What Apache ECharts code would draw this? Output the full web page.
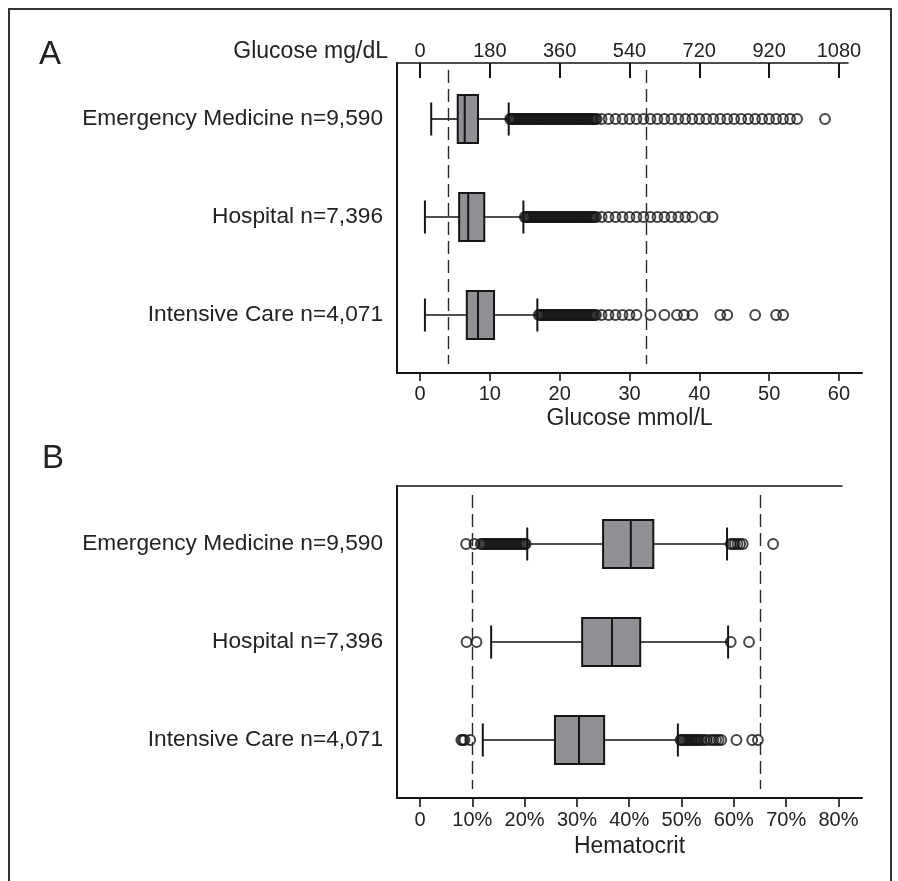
<!DOCTYPE html>
<html><head><meta charset="utf-8">
<script src="https://cdn.jsdelivr.net/npm/echarts@6/dist/echarts.min.js"></script>
<style>html,body{margin:0;padding:0;background:#fff}#c{width:898px;height:881px}</style>
</head><body><div id="c"></div>
<script>
// ---------- data ----------
const categories = ['Emergency Medicine n=9,590', 'Hospital n=7,396', 'Intensive Care n=4,071'];

// Panel A: glucose (mmol/L) [lower whisker, Q1, median, Q3, upper whisker]
const glucoseBoxes = [
  [1.6, 5.4, 6.4, 8.3, 12.7],
  [0.7, 5.6, 6.9, 9.2, 14.8],
  [0.7, 6.7, 8.3, 10.6, 16.8]
];
const glucoseOutliersEM = [12.9,13.1,13.3,13.5,13.7,13.9,14.1,14.3,14.5,14.7,14.9,15.1,15.3,15.5,15.7,15.9,16.1,16.3,16.5,16.7,16.9,17.1,17.3,17.5,17.7,17.9,18.1,18.3,18.5,18.7,18.9,19.1,19.3,19.5,19.7,19.9,20.1,20.3,20.5,20.7,20.9,21.1,21.3,21.5,21.7,21.9,22.1,22.3,22.5,22.7,22.9,23.1,23.3,23.5,23.7,23.9,24.1,24.3,24.5,24.7,24.9,25.1,25.3,
  26,27,28,29,30,31,32,33,34,35,36,37,38,39,40,41,42,43,44,45,46,47,48,49,50,51,52,53,54,58];
const glucoseOutliersHosp = [15.0,15.2,15.4,15.6,15.8,16.0,16.2,16.4,16.6,16.8,17.0,17.2,17.4,17.6,17.8,18.0,18.2,18.4,18.6,18.8,19.0,19.2,19.4,19.6,19.8,20.0,20.2,20.4,20.6,20.8,21.0,21.2,21.4,21.6,21.8,22.0,22.2,22.4,22.6,22.8,23.0,23.2,23.4,23.6,23.8,24.0,24.2,24.4,24.6,24.8,25.0,25.2,
  26,27,28,29,30,31,32,33,34,35,36,37,38,39,40.8,41.9];
const glucoseOutliersICU = [17.0,17.2,17.4,17.6,17.8,18.0,18.2,18.4,18.6,18.8,19.0,19.2,19.4,19.6,19.8,20.0,20.2,20.4,20.6,20.8,21.0,21.2,21.4,21.6,21.8,22.0,22.2,22.4,22.6,22.8,23.0,23.2,23.4,23.6,23.8,24.0,24.2,24.4,24.6,24.8,25.0,25.2,
  26,27,28,29,30,31,33,35,36.8,37.8,39,43,44,48,51,52];
const glucoseTicks = [0, 10, 20, 30, 40, 50, 60];
const glucoseMgTickLabels = ['0', '180', '360', '540', '720', '920', '1080'];
const glucoseLimits = [4.1, 32.4];

// Panel B: hematocrit (%)
const hctBoxes = [
  [20.5, 35.0, 40.3, 44.6, 58.7],
  [13.6, 31.0, 36.7, 42.1, 58.9],
  [12.0, 25.8, 30.4, 35.2, 49.3]
];
const hctOutliersEM = [8.8,10.4,11.6,11.9,12.2,12.5,12.8,13.1,13.4,13.7,14.0,14.3,14.6,14.9,15.2,15.5,15.8,16.1,16.4,16.7,17.0,17.3,17.6,17.9,18.2,18.5,18.8,19.1,19.4,19.7,20.0,20.2,
  59.4,59.8,60.2,60.7,61.2,61.7,67.5];
const hctOutliersHosp = [8.9, 10.8, 59.4, 62.9];
const hctOutliersICU = [7.9,8.2,8.5,9.6,
  49.8,50.1,50.4,50.7,51.0,51.3,51.6,51.9,52.2,52.5,52.8,53.1,53.4,53.8,54.3,54.8,55.6,56.1,56.6,57.1,57.6,60.5,63.5,64.6];
const hctTicks = [0, 10, 20, 30, 40, 50, 60, 70, 80];
const hctLimits = [10, 65];

// ---------- chart ----------
const INK = '#151515';
const FONT = '"Liberation Sans", Arial, Helvetica, sans-serif';
const chart = echarts.init(document.getElementById('c'), null, {renderer: 'canvas'});

function renderBox(params, api) {
  const c = api.value(0);
  const pMin = api.coord([api.value(1), c]);
  const pQ1 = api.coord([api.value(2), c]);
  const pMed = api.coord([api.value(3), c]);
  const pQ3 = api.coord([api.value(4), c]);
  const pMax = api.coord([api.value(5), c]);
  const y = pMed[1];
  const bh = 24, ch = 16.5;
  const thin = {stroke: INK, lineWidth: 1.6};
  const thick = {stroke: INK, lineWidth: 2};
  return {type: 'group', children: [
    {type: 'line', shape: {x1: pMin[0], y1: y, x2: pQ1[0], y2: y}, style: thin},
    {type: 'line', shape: {x1: pQ3[0], y1: y, x2: pMax[0], y2: y}, style: thin},
    {type: 'line', shape: {x1: pMin[0], y1: y - ch, x2: pMin[0], y2: y + ch}, style: thick},
    {type: 'line', shape: {x1: pMax[0], y1: y - ch, x2: pMax[0], y2: y + ch}, style: thick},
    {type: 'rect', shape: {x: pQ1[0], y: y - bh, width: pQ3[0] - pQ1[0], height: 2 * bh},
      style: {fill: '#8f9094', stroke: INK, lineWidth: 2}},
    {type: 'line', shape: {x1: pMed[0], y1: y - bh, x2: pMed[0], y2: y + bh}, style: thick}
  ]};
}

function outlierSeries(values, catIdx, xi, yi) {
  return {
    type: 'scatter', xAxisIndex: xi, yAxisIndex: yi, silent: true,
    symbol: 'circle', symbolSize: 9.8, z: 3,
    itemStyle: {color: 'rgba(0,0,0,0)', borderColor: INK, borderWidth: 2},
    data: values.map(v => [v, catIdx])
  };
}

const dashLine = (vals) => ({
  silent: true, symbol: 'none', label: {show: false},
  lineStyle: {color: '#2a2a2a', type: [13, 6], width: 1.4},
  data: vals.map(v => ({xAxis: v}))
});

const catAxisLabel = {fontSize: 22.7, color: '#222', margin: 14, fontFamily: FONT};
const tickLbl = {fontSize: 20, color: '#222', fontFamily: FONT};
const GA = {min: -3.3, max: 63.3};
const HB = {min: -4.4, max: 84.5};

const option = {
  animation: false,
  backgroundColor: '#fff',
  textStyle: {fontFamily: FONT},
  grid: [
    {left: 397, top: 63, width: 465, height: 310},  // 0 frame A
    {left: 397, top: 63, width: 451, height: 310},  // 1 top axis A
    {left: 397, top: 70, width: 465, height: 294},  // 2 data A
    {left: 397, top: 486, width: 465, height: 312}, // 3 frame B
    {left: 397, top: 486, width: 445, height: 312}, // 4 top line B
    {left: 397, top: 495, width: 465, height: 294}  // 5 data B
  ],
  xAxis: [
    {type: 'value', gridIndex: 0, position: 'bottom', min: GA.min, max: GA.max,
      axisLine: {show: true, onZero: false, lineStyle: {color: INK, width: 2}},
      axisTick: {show: true, inside: false, length: 8, customValues: glucoseTicks, lineStyle: {color: INK, width: 1.6}},
      axisLabel: Object.assign({margin: 11, customValues: glucoseTicks}, tickLbl),
      splitLine: {show: false},
      name: 'Glucose mmol/L', nameLocation: 'middle', nameGap: 34,
      nameTextStyle: {fontSize: 23, color: '#222', fontFamily: FONT}},
    {type: 'value', gridIndex: 1, position: 'top', min: GA.min, max: 61.3,
      axisLine: {show: true, onZero: false, lineStyle: {color: INK, width: 1.5}},
      axisTick: {show: true, inside: true, length: 15, customValues: glucoseTicks, lineStyle: {color: INK, width: 2}},
      axisLabel: Object.assign({margin: 2, customValues: glucoseTicks,
        formatter: v => glucoseMgTickLabels[glucoseTicks.indexOf(v)]}, tickLbl),
      splitLine: {show: false}},
    {type: 'value', gridIndex: 2, min: GA.min, max: GA.max, show: false},
    {type: 'value', gridIndex: 3, position: 'bottom', min: HB.min, max: HB.max,
      axisLine: {show: true, onZero: false, lineStyle: {color: INK, width: 2}},
      axisTick: {show: true, inside: false, length: 9, customValues: hctTicks, lineStyle: {color: INK, width: 1.6}},
      axisLabel: Object.assign({margin: 12, customValues: hctTicks,
        formatter: v => v === 0 ? '0' : v + '%'}, tickLbl),
      splitLine: {show: false},
      name: 'Hematocrit', nameLocation: 'middle', nameGap: 37,
      nameTextStyle: {fontSize: 23, color: '#222', fontFamily: FONT}},
    {type: 'value', gridIndex: 4, position: 'top', min: HB.min, max: HB.max,
      axisLine: {show: true, onZero: false, lineStyle: {color: INK, width: 1.5}},
      axisTick: {show: false}, axisLabel: {show: false}, splitLine: {show: false}},
    {type: 'value', gridIndex: 5, min: HB.min, max: HB.max, show: false}
  ],
  yAxis: [
    {type: 'value', gridIndex: 0, min: 0, max: 1,
      axisLine: {show: true, onZero: false, lineStyle: {color: INK, width: 2}},
      axisTick: {show: false}, axisLabel: {show: false}, splitLine: {show: false}},
    {type: 'value', gridIndex: 1, min: 0, max: 1, show: false},
    {type: 'category', gridIndex: 2, data: categories, inverse: true,
      axisLine: {show: false}, axisTick: {show: false}, axisLabel: catAxisLabel, splitLine: {show: false}},
    {type: 'value', gridIndex: 3, min: 0, max: 1,
      axisLine: {show: true, onZero: false, lineStyle: {color: INK, width: 2}},
      axisTick: {show: false}, axisLabel: {show: false}, splitLine: {show: false}},
    {type: 'value', gridIndex: 4, min: 0, max: 1, show: false},
    {type: 'category', gridIndex: 5, data: categories, inverse: true,
      axisLine: {show: false}, axisTick: {show: false}, axisLabel: catAxisLabel, splitLine: {show: false}}
  ],
  series: [
    {type: 'custom', xAxisIndex: 2, yAxisIndex: 2, renderItem: renderBox, silent: true, z: 2,
      encode: {x: [1, 2, 3, 4, 5], y: 0},
      data: glucoseBoxes.map((b, i) => [i].concat(b)),
      markLine: dashLine(glucoseLimits)},
    outlierSeries(glucoseOutliersEM, 0, 2, 2),
    outlierSeries(glucoseOutliersHosp, 1, 2, 2),
    outlierSeries(glucoseOutliersICU, 2, 2, 2),
    {type: 'custom', xAxisIndex: 5, yAxisIndex: 5, renderItem: renderBox, silent: true, z: 2,
      encode: {x: [1, 2, 3, 4, 5], y: 0},
      data: hctBoxes.map((b, i) => [i].concat(b)),
      markLine: dashLine(hctLimits)},
    outlierSeries(hctOutliersEM, 0, 5, 5),
    outlierSeries(hctOutliersHosp, 1, 5, 5),
    outlierSeries(hctOutliersICU, 2, 5, 5)
  ],
  graphic: [
    {type: 'rect', silent: true, shape: {x: 9, y: 9, width: 882, height: 900},
      style: {fill: 'none', stroke: '#333', lineWidth: 2}},
    {type: 'text', silent: true, style: {x: 39, y: 55, text: 'A', font: '33px ' + FONT, fill: '#222', verticalAlign: 'middle'}},
    {type: 'text', silent: true, style: {x: 42, y: 459, text: 'B', font: '33px ' + FONT, fill: '#222', verticalAlign: 'middle'}},
    {type: 'text', silent: true, style: {x: 388, y: 52, text: 'Glucose mg/dL', font: '23px ' + FONT, fill: '#222', align: 'right', verticalAlign: 'middle'}}
  ]
};
chart.setOption(option);
</script>
</body></html>
